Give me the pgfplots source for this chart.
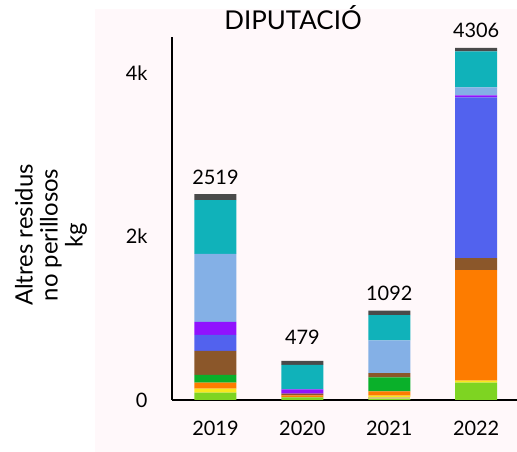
\documentclass[border=0pt]{standalone}
\usepackage{pgfplots}
\pgfplotsset{compat=1.18}
\usepackage{fontspec}
\setmainfont{Lato}
\definecolor{bgpink}{RGB}{255,248,250}
\definecolor{cLG}{RGB}{126,212,34}
\definecolor{cKH}{RGB}{214,200,120}
\definecolor{cYE}{RGB}{248,231,28}
\definecolor{cOR}{RGB}{253,124,0}
\definecolor{cGR}{RGB}{10,176,42}
\definecolor{cBR}{RGB}{139,87,42}
\definecolor{cBL}{RGB}{82,98,238}
\definecolor{cPU}{RGB}{144,19,254}
\definecolor{cLB}{RGB}{132,176,230}
\definecolor{cTE}{RGB}{16,178,186}
\definecolor{cDG}{RGB}{74,74,74}
\begin{document}
\begin{tikzpicture}
\path[use as bounding box] (0,0) rectangle (517bp,452bp);
\fill[bgpink] (95bp,0) rectangle (517bp,443bp);
\begin{axis}[
  at={(172bp,52bp)}, anchor=south west,
  scale only axis, width=345bp, height=363bp,
  ybar stacked, bar width=42bp,
  xmin=-0.5, xmax=3.47, ymin=0, ymax=4440,
  axis x line*=bottom, axis y line*=left,
  axis line style={line width=1.6bp,-},
  major tick length=0pt,
  xtick={0,1,2,3}, xticklabels={2019,2020,2021,2022},
  ytick={0,2000,4000}, yticklabels={0,2k,4k},
  scaled y ticks=false,
  tick label style={font=\fontsize{20}{24}\selectfont},
  xticklabel style={yshift=-18bp},
  yticklabel style={xshift=-21bp},
  /pgf/number format/assume math mode=true,
  every axis plot/.append style={draw=none},
]
\addplot[fill=cLG] coordinates {(0,90) (1,33) (2,12) (3,212)};
\addplot[fill=cKH] coordinates {(0,0) (1,0) (2,22) (3,0)};
\addplot[fill=cYE] coordinates {(0,49) (1,0) (2,20) (3,24)};
\addplot[fill=cOR] coordinates {(0,73) (1,24) (2,50) (3,1352)};
\addplot[fill=cGR] coordinates {(0,94) (1,0) (2,174) (3,0)};
\addplot[fill=cBR] coordinates {(0,294) (1,20) (2,50) (3,147)};
\addplot[fill=cBL] coordinates {(0,196) (1,0) (2,0) (3,1966)};
\addplot[fill=cPU] coordinates {(0,159) (1,53) (2,0) (3,24)};
\addplot[fill=cLB] coordinates {(0,832) (1,0) (2,402) (3,98)};
\addplot[fill=cTE] coordinates {(0,659) (1,300) (2,307) (3,440)};
\addplot[fill=cDG, point meta=explicit symbolic,
  nodes near coords,
  nodes near coords style={anchor=south, yshift=9bp, font=\fontsize{20}{24}\selectfont, text=black}]
  coordinates {(0,73) [2519] (1,49) [\raisebox{6bp}{479}] (2,55) [1092] (3,43) [4306]};
\end{axis}
\node[anchor=base, font=\fontsize{26}{30}\selectfont] at (293bp,422.7bp) {DIPUTACIÓ};
\node[rotate=90, align=center, font=\fontsize{24}{25}\selectfont] at (51bp,217bp) {Altres residus\\no perillosos\\kg};
\end{tikzpicture}
\end{document}
